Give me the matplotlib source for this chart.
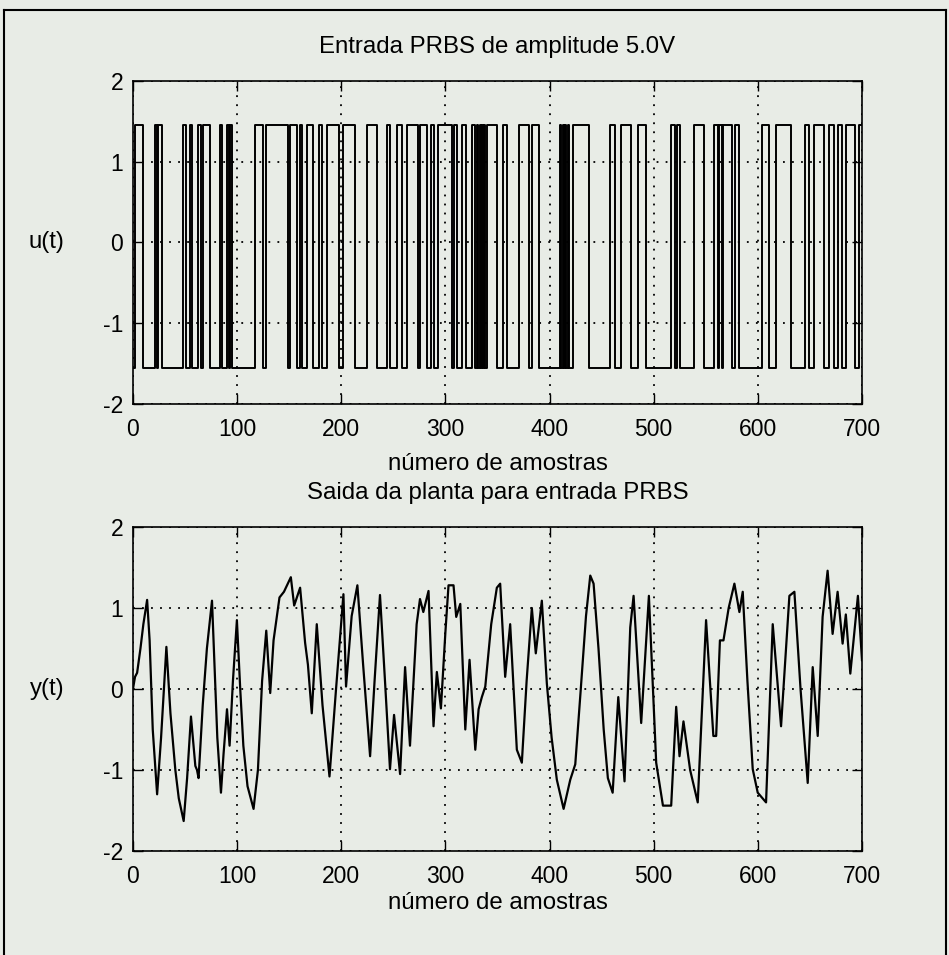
import numpy as np
import matplotlib
matplotlib.use("Agg")
import matplotlib.pyplot as plt
from matplotlib.lines import Line2D

plt.rcParams['font.family'] = ['Liberation Sans', 'DejaVu Sans']
plt.rcParams['axes.unicode_minus'] = False

# PRBS input: level flips at these sample indices (starts low)
u_switch = [1.9, 9.9, 21.1, 22.7, 24.0, 28.2, 48.3, 50.9, 54.7, 56.7, 62.7, 65.3,
            66.9, 73.9, 83.5, 85.5, 90.6, 92.5, 93.5, 95.1, 117.2, 124.5, 127.7,
            149, 151, 157.4, 160, 162.2, 167, 173.3, 179.1, 181.4, 186.2, 198.3,
            202, 213.3, 224.5, 234, 243.7, 246.9, 253.3, 258, 262.9, 274, 275.6,
            282, 286, 289, 293, 306, 308, 311, 316, 320, 326, 328, 330, 331, 333,
            334, 335, 336, 337.5, 338.5, 340, 350, 355, 359, 371, 380, 383, 390,
            410, 411, 412.5, 413.5, 415, 416, 418, 419, 423, 438, 458, 463, 469,
            478, 485, 493, 517, 520, 522, 525, 539, 548, 558, 562, 563, 566, 567,
            575, 578, 582, 604, 611, 617, 632, 645, 649, 654, 664, 668, 673, 677,
            681, 685, 693, 697]
u_hi = 1.45
u_lo = -1.55

# plant output y(t)
y_t = [0, 2, 4, 7.2, 10, 13.6, 16, 19, 23.2, 27, 32.1, 36, 40.7, 44, 48.7, 52,
       55.7, 57.5, 59.9, 61.5, 63, 67, 71, 75.9, 78, 81, 84.5, 87, 90.3, 92.8,
       96, 99.8, 103, 106, 110, 115.8, 120, 124, 128, 131.8, 135, 140.7, 145,
       151.6, 154.8, 160.5, 165.3, 168, 171.7, 176.5, 182, 188.7, 195, 202.1,
       204.6, 210, 215.5, 221, 227.7, 232, 237.2, 242, 246.8, 250.7, 256.5,
       261.3, 266, 272.4, 275.6, 278.8, 283.8, 288.6, 291.8, 295.7, 300, 303,
       307.8, 310.4, 314.3, 319.1, 323.2, 328.7, 331.9, 335, 338.3, 344, 349.4,
       352.6, 357.4, 362.2, 368.6, 373.4, 378, 383, 386.8, 392.6, 397.4, 402,
       407, 413.5, 419.9, 424.7, 430, 435, 439.1, 442.3, 447, 452, 456, 460.6,
       466, 472, 477.5, 480.7, 488, 495.4, 502.4, 508.9, 516.8, 521.6, 524.8,
       528.6, 535, 542.3, 550.3, 557.3, 560, 563.6, 567, 572, 577.5, 582.3,
       585.5, 590, 595.1, 599.9, 607.9, 614.3, 622.3, 630.3, 635.1, 641, 647.9,
       652.7, 657.5, 662.2, 667, 671.8, 676.6, 681.4, 684.5, 688.8, 696.1, 700]
y_val = [0.0, 0.15, 0.2, 0.5, 0.8, 1.1, 0.6, -0.5, -1.3, -0.6, 0.52, -0.3, -1.0,
         -1.35, -1.63, -1.1, -0.34, -0.6, -0.95, -1.0, -1.1, -0.2, 0.5, 1.09,
         0.4, -0.6, -1.28, -0.8, -0.25, -0.7, 0.1, 0.85, 0.0, -0.7, -1.2, -1.48,
         -1.0, 0.1, 0.72, -0.05, 0.6, 1.13, 1.2, 1.38, 1.03, 1.25, 0.57, 0.3,
         -0.3, 0.8, -0.2, -1.08, 0.0, 1.17, 0.03, 0.9, 1.28, 0.3, -0.83, 0.1,
         1.16, 0.1, -0.99, -0.32, -1.05, 0.27, -0.7, 0.8, 1.11, 0.95, 1.21,
         -0.46, 0.21, -0.24, 0.7, 1.28, 1.28, 0.89, 1.05, -0.5, 0.36, -0.75,
         -0.25, -0.1, 0.03, 0.8, 1.25, 1.3, 0.15, 0.8, -0.75, -0.91, 0.1, 1.0,
         0.44, 1.09, 0.07, -0.6, -1.12, -1.48, -1.12, -0.93, 0.0, 0.9, 1.4, 1.3,
         0.5, -0.5, -1.1, -1.28, -0.1, -1.14, 0.76, 1.15, -0.42, 1.15, -0.91,
         -1.44, -1.44, -0.22, -0.83, -0.4, -1.0, -1.4, 0.85, -0.58, -0.58, 0.6,
         0.6, 1.0, 1.3, 0.95, 1.2, 0.1, -0.99, -1.28, -1.4, 0.8, -0.46, 1.15,
         1.2, 0.0, -1.16, 0.27, -0.58, 0.89, 1.46, 0.68, 1.2, 0.56, 0.92, 0.19,
         1.15, 0.36]

xticks = [0, 100, 200, 300, 400, 500, 600, 700]
yticks = [-2, -1, 0, 1, 2]

bg = '#e8ece6'

# build step arrays for the PRBS
u_x = [0] + u_switch + [700]
u_y = []
level = u_lo
for i in range(len(u_x) - 1):
    u_y.append(level)
    level = u_hi if level == u_lo else u_lo
u_y.append(u_y[-1])

fig = plt.figure(figsize=(9.49, 9.55), dpi=100, facecolor=bg)
ax1 = fig.add_axes([0.1401, 0.5770, 0.7682, 0.3382])
ax2 = fig.add_axes([0.1401, 0.1089, 0.7682, 0.3393])


def style(ax, title, ylab, xpad):
    ax.set_facecolor(bg)
    ax.set_xlim(0, 700)
    ax.set_ylim(-2, 2)
    ax.set_xticks(xticks)
    ax.set_yticks(yticks)
    ax.grid(True, color='black', linestyle=(0, (1, 4)), linewidth=1.3)
    ax.tick_params(direction='in', top=True, right=True, length=7, width=1,
                   labelsize=16.5)
    ax.tick_params(axis='x', pad=10)
    ax.tick_params(axis='y', pad=7)
    for s in ax.spines.values():
        s.set_linewidth(1.2)
    ax.set_title(title, fontsize=17.3, pad=20)
    ax.set_xlabel('número de amostras', fontsize=17.3, labelpad=xpad)
    ax.set_ylabel(ylab, fontsize=17.3, rotation=0, ha='center', va='center')
    ax.yaxis.set_label_coords(-0.118, 0.5)


ax1.step(u_x, u_y, where='post', color='black', linewidth=1.4)
style(ax1, 'Entrada PRBS de amplitude 5.0V', 'u(t)', 9)

ax2.plot(y_t, y_val, color='black', linewidth=1.6)
style(ax2, 'Saida da planta para entrada PRBS', 'y(t)', 3)

# outer frame of the scanned page
fig.add_artist(Line2D([0.004, 0.004], [0.0, 0.9895], color='black', lw=1.5))
fig.add_artist(Line2D([0.004, 0.997], [0.9895, 0.9895], color='black', lw=1.5))
fig.add_artist(Line2D([0.997, 0.997], [0.0, 0.9895], color='black', lw=1.5))

fig.savefig('out.png', dpi=100, facecolor=bg)
